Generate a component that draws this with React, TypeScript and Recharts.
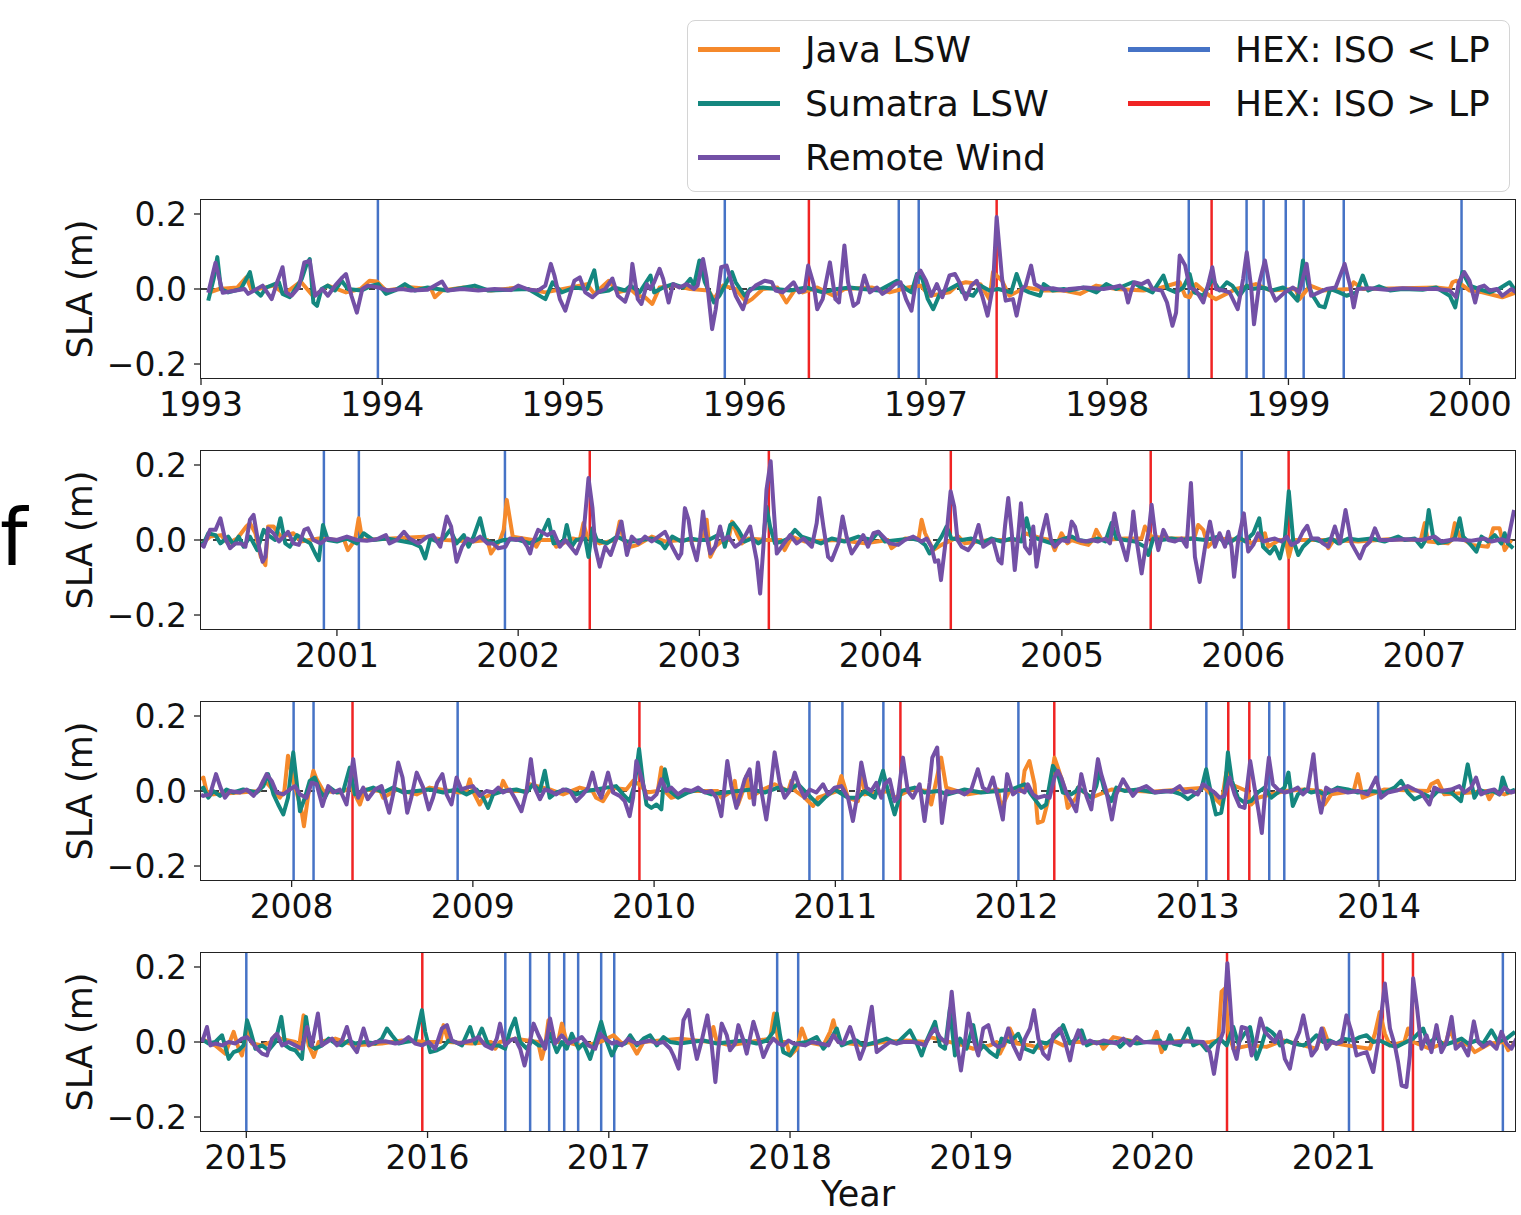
import React from "react";
import { LineChart, Line, XAxis, YAxis, ReferenceLine } from "recharts";

type Pt = [number, number];

// Remote Wind (purple), one array per panel: [decimal year, SLA m]
const wind1: Pt[] = [
  [1993.04,-0.01],[1993.08,0.07],[1993.12,-0.01],[1993.24,0.0],[1993.26,-0.013],[1993.34,0.009],[1993.39,-0.027],[1993.42,0.018],[1993.45,0.058],[1993.47,-0.009],[1993.5,-0.018],[1993.54,0.005],[1993.57,0.071],[1993.6,0.075],[1993.63,-0.018],[1993.67,0.0],[1993.7,-0.018],[1993.74,0.009],[1993.78,0.031],[1993.8,0.04],[1993.83,-0.018],[1993.86,-0.063],[1993.89,0.0],[1993.92,0.009],[1993.98,0.004],[1994.03,-0.004],[1994.11,0.0],[1994.16,-0.004],[1994.25,-0.002],[1994.33,0.02],[1994.36,-0.004],[1994.44,0.0],[1994.53,-0.004],[1994.62,0.0],[1994.71,-0.003],[1994.75,0.009],[1994.81,-0.002],[1994.86,-0.004],[1994.9,0.009],[1994.93,0.067],[1994.95,0.036],[1994.98,-0.027],[1995.01,-0.058],[1995.04,-0.009],[1995.06,0.022],[1995.09,0.031],[1995.12,-0.009],[1995.16,-0.022],[1995.19,-0.009],[1995.23,0.0],[1995.27,0.028],[1995.3,-0.018],[1995.34,-0.034],
  [1995.37,0.009],[1995.38,0.067],[1995.41,-0.027],[1995.43,-0.04],[1995.46,0.013],[1995.48,0.0],[1995.5,0.018],[1995.53,0.054],[1995.55,0.027],[1995.58,-0.036],[1995.605,0.013],[1995.64,0.004],[1995.68,0.013],[1995.72,0.0],[1995.74,0.009],[1995.77,0.08],[1995.79,0.027],[1995.82,-0.107],[1995.84,-0.054],[1995.87,0.058],[1995.9,0.0625],[1995.93,0.013],[1995.95,-0.018],[1995.99,-0.054],[1996.02,-0.009],[1996.06,0.009],[1996.11,0.022],[1996.15,0.018],[1996.17,-0.004],[1996.21,-0.009],[1996.27,0.018],[1996.3,-0.009],[1996.33,-0.004],[1996.35,0.0625],[1996.38,0.013],[1996.4,-0.054],[1996.43,-0.027],[1996.47,0.071],[1996.5,-0.027],[1996.52,-0.036],[1996.55,0.116],[1996.57,0.018],[1996.6,-0.045],[1996.625,-0.036],[1996.66,0.036],[1996.69,-0.009],[1996.73,0.004],[1996.76,-0.013],[1996.8,0.0],[1996.83,0.013],[1996.86,0.018],[1996.89,-0.027],[1996.92,-0.058],[1996.95,0.036],[1996.97,0.049],[1997.0,0.022],[1997.03,-0.018],[1997.06,0.013],[1997.09,-0.022],[1997.13,0.036],[1997.16,0.04],[1997.19,0.013],[1997.22,-0.027],[1997.25,0.009],[1997.28,0.022],[1997.31,-0.018],[1997.34,-0.071],[1997.37,0.009],[1997.39,0.192],[1997.42,0.027],[1997.44,-0.031],[1997.48,-0.027],[1997.5,-0.071],[1997.53,0.0],[1997.55,0.009],[1997.58,0.0625],[1997.6,0.013],[1997.65,0.0],[1997.7,0.002],[1997.76,-0.004],
  [1997.79,0.0],[1997.88,0.004],[1997.98,0.0],[1998.03,0.004],[1998.07,0.009],[1998.1,-0.004],[1998.115,-0.036],[1998.13,-0.009],[1998.15,0.018],[1998.19,0.013],[1998.225,0.022],[1998.25,0.0],[1998.3,-0.004],[1998.33,-0.036],[1998.36,-0.098],[1998.38,-0.063],[1998.4,0.089],[1998.43,0.063],[1998.455,0.004],[1998.49,-0.004],[1998.53,-0.036],[1998.56,0.018],[1998.58,0.058],[1998.6,0.0],[1998.64,-0.004],[1998.675,-0.009],[1998.72,-0.054],[1998.75,0.027],[1998.77,0.098],[1998.795,0.0],[1998.81,-0.094],[1998.84,0.018],[1998.87,0.076],[1998.9,0.0],[1998.93,-0.031],[1998.98,-0.009],[1999.025,0.004],[1999.06,-0.009],[1999.1,0.067],[1999.125,-0.018],[1999.15,-0.013],[1999.21,0.0],[1999.26,0.004],[1999.31,0.067],[1999.34,0.009],[1999.36,-0.049],[1999.38,0.0],[1999.45,0.002],[1999.54,-0.002],[1999.63,0.002],[1999.72,0.0],[1999.815,0.0],[1999.89,-0.004],[1999.925,-0.022],[1999.94,0.018],[1999.97,0.045],[1999.999,0.022],[2000.03,-0.036],[2000.05,0.004],[2000.08,0.009],[2000.11,-0.004],[2000.15,0.0],[2000.18,-0.018],[2000.23,0.0],[2000.26,-0.01],
];

const wind2: Pt[] = [
  [2000.25,-0.01],[2000.265,-0.018],[2000.3,0.027],[2000.33,0.027],[2000.357,0.058],[2000.38,0.009],[2000.41,-0.022],[2000.44,-0.009],[2000.47,-0.009],[2000.495,-0.018],[2000.52,0.054],[2000.54,0.067],[2000.57,-0.018],[2000.59,-0.058],[2000.605,-0.045],[2000.62,0.031],[2000.65,0.018],[2000.68,-0.004],[2000.706,0.009],[2000.73,0.022],[2000.76,-0.009],[2000.79,-0.013],[2000.82,0.027],[2000.84,0.031],[2000.87,0.0],[2000.91,-0.009],[2000.945,0.004],[2001.0,0.0],[2001.055,0.009],[2001.11,0.0],[2001.165,-0.002],[2001.22,0.002],[2001.27,0.013],[2001.29,-0.009],[2001.33,0.0],[2001.37,0.022],[2001.4,0.004],[2001.45,-0.009],[2001.5,0.009],[2001.53,0.013],[2001.57,-0.018],[2001.606,0.0625],[2001.63,0.036],[2001.66,-0.058],[2001.69,-0.018],[2001.72,0.004],[2001.75,-0.004],[2001.79,0.009],[2001.83,-0.009],[2001.86,-0.009],[2001.89,-0.022],[2001.93,-0.018],[2001.955,0.004],[2001.99,0.0],[2002.02,0.004],[2002.05,-0.018],[2002.066,-0.036],[2002.08,-0.009],[2002.11,0.027],[2002.16,0.013],[2002.195,0.022],[2002.23,-0.018],[2002.26,0.0],[2002.29,-0.018],[2002.32,-0.036],[2002.36,0.013],[2002.388,0.165],[2002.41,0.085],[2002.425,-0.018],[2002.45,-0.071],[2002.48,-0.018],[2002.51,-0.04],[2002.545,0.009],[2002.57,0.049],[2002.6,-0.04],
  [2002.627,0.009],[2002.664,-0.009],[2002.7,0.009],[2002.737,-0.004],[2002.774,0.009],[2002.81,0.022],[2002.85,-0.018],[2002.884,-0.049],[2002.9,-0.036],[2002.92,0.085],[2002.94,0.054],[2002.958,-0.009],[2002.985,-0.054],[2003.004,0.004],[2003.02,0.076],[2003.035,0.018],[2003.06,-0.036],[2003.087,-0.018],[2003.114,0.036],[2003.13,0.0],[2003.16,0.009],[2003.197,-0.018],[2003.224,-0.009],[2003.25,0.009],[2003.28,0.036],[2003.298,-0.009],[2003.316,-0.054],[2003.335,-0.143],[2003.353,-0.018],[2003.37,0.134],[2003.393,0.21],[2003.408,0.098],[2003.427,-0.036],[2003.454,-0.018],[2003.5,0.013],[2003.537,-0.009],[2003.574,0.004],[2003.62,-0.018],[2003.647,0.045],[2003.662,0.112],[2003.684,0.036],[2003.71,-0.045],[2003.73,-0.054],[2003.767,-0.009],[2003.79,0.0625],[2003.812,0.009],[2003.84,-0.036],[2003.877,-0.009],[2003.904,0.013],[2003.93,-0.018],[2003.96,0.018],[2003.987,0.022],[2004.014,0.009],[2004.05,-0.009],[2004.097,-0.013],[2004.134,0.0],[2004.18,0.009],[2004.226,-0.004],[2004.254,0.004],[2004.28,-0.018],[2004.3,-0.058],[2004.318,-0.054],[2004.333,-0.107],[2004.355,-0.018],[2004.368,0.036],[2004.386,0.13],[2004.406,0.089],[2004.424,0.0],[2004.447,-0.018],[2004.483,-0.027],[2004.51,-0.009],[2004.54,0.04],[2004.566,-0.018],[2004.594,-0.009],[2004.62,0.0],[2004.65,-0.054],[2004.667,-0.0625],[2004.686,0.036],[2004.704,0.112],[2004.722,0.027],[2004.74,-0.08],[2004.76,0.018],[2004.774,0.098],[2004.796,-0.018],[2004.823,-0.036],[2004.842,0.036],[2004.86,-0.071],[2004.888,0.013],[2004.915,0.067],[2004.94,0.0],[2004.96,-0.018],[2004.998,0.0],[2005.035,-0.004],
  [2005.054,0.049],[2005.072,0.036],[2005.09,0.0],[2005.13,-0.004],[2005.164,0.0],[2005.2,-0.004],[2005.24,0.004],[2005.265,-0.009],[2005.29,0.071],[2005.31,0.018],[2005.33,-0.009],[2005.357,-0.054],[2005.385,0.027],[2005.394,0.076],[2005.412,0.0],[2005.44,-0.089],[2005.462,-0.018],[2005.48,0.027],[2005.495,0.094],[2005.514,0.018],[2005.532,-0.027],[2005.56,0.027],[2005.587,0.0],[2005.624,-0.004],[2005.66,0.004],[2005.688,-0.018],[2005.712,0.152],[2005.734,-0.045],[2005.76,-0.112],[2005.79,-0.018],[2005.817,0.049],[2005.844,-0.018],[2005.87,0.018],[2005.9,-0.018],[2005.918,0.022],[2005.936,-0.018],[2005.95,-0.098],[2005.973,0.0],[2006.004,0.071],[2006.028,-0.031],[2006.056,-0.013],[2006.083,0.018],[2006.11,-0.004],[2006.14,0.0],[2006.175,0.004],[2006.212,-0.004],[2006.24,0.009],[2006.267,-0.013],[2006.304,-0.004],[2006.33,0.022],[2006.354,0.038],[2006.377,0.004],[2006.414,0.004],[2006.44,-0.009],[2006.47,-0.018],[2006.506,0.036],[2006.534,-0.009],[2006.565,0.08],[2006.598,-0.009],[2006.644,-0.049],[2006.67,-0.018],[2006.7,-0.004],[2006.727,0.031],[2006.754,0.0],[2006.82,0.0],[2006.892,0.002],[2006.984,0.0],[2007.057,0.009],[2007.094,-0.004],[2007.168,0.002],[2007.26,-0.002],[2007.333,0.004],[2007.37,-0.004],[2007.425,0.002],[2007.46,-0.004],[2007.495,0.08],
];

const wind3: Pt[] = [
  [2007.5,-0.01],[2007.513,-0.013],[2007.55,-0.009],[2007.583,0.045],[2007.608,0.009],[2007.632,-0.018],[2007.66,0.0],[2007.715,-0.004],[2007.752,0.004],[2007.79,-0.013],[2007.825,0.009],[2007.862,0.045],[2007.89,0.027],[2007.917,-0.004],[2007.954,-0.009],[2007.99,0.004],[2008.018,0.013],[2008.046,-0.009],[2008.082,-0.018],[2008.11,0.022],[2008.138,0.018],[2008.17,-0.04],[2008.202,0.013],[2008.23,-0.004],[2008.266,0.004],[2008.303,-0.036],[2008.34,0.085],[2008.367,-0.018],[2008.395,0.009],[2008.42,-0.022],[2008.46,0.004],[2008.496,0.013],[2008.538,-0.058],[2008.56,-0.009],[2008.588,0.076],[2008.612,0.036],[2008.638,-0.058],[2008.66,-0.018],[2008.69,0.049],[2008.726,0.009],[2008.757,-0.049],[2008.78,-0.018],[2008.803,0.022],[2008.832,0.045],[2008.855,-0.009],[2008.882,-0.036],[2008.91,0.036],[2008.937,0.004],[2008.965,0.009],[2009.0,0.013],[2009.038,-0.013],[2009.075,0.0],[2009.112,-0.004],[2009.14,0.009],[2009.167,-0.004],[2009.204,0.004],[2009.23,-0.018],[2009.268,-0.054],[2009.296,0.0],[2009.32,0.085],[2009.341,0.009],[2009.37,-0.022],[2009.397,0.004],[2009.424,0.0],[2009.46,-0.009],[2009.498,0.004],[2009.535,0.0],[2009.571,-0.027],[2009.608,-0.009],[2009.636,0.009],[2009.66,0.049],[2009.68,0.009],[2009.709,-0.018],[2009.746,0.049],[2009.773,-0.004],[2009.81,-0.013],[2009.838,-0.027],[2009.865,-0.067],[2009.884,-0.018],[2009.902,0.08],[2009.93,0.036],
  [2009.958,-0.018],[2009.985,-0.022],[2010.013,-0.009],[2010.04,0.031],[2010.068,0.0],[2010.095,0.009],[2010.132,-0.009],[2010.169,0.004],[2010.206,0.0],[2010.243,0.009],[2010.279,-0.004],[2010.316,0.0],[2010.344,-0.018],[2010.371,-0.067],[2010.404,0.08],[2010.426,0.013],[2010.454,-0.045],[2010.482,0.0],[2010.5,0.031],[2010.527,0.058],[2010.551,-0.036],[2010.573,0.076],[2010.592,0.0],[2010.619,-0.076],[2010.643,0.009],[2010.665,0.103],[2010.693,0.022],[2010.72,-0.018],[2010.748,0.0],[2010.776,0.049],[2010.803,0.009],[2010.831,-0.018],[2010.858,0.004],[2010.895,-0.004],[2010.932,0.018],[2010.96,-0.009],[2010.996,0.009],[2011.033,0.013],[2011.07,-0.018],[2011.097,-0.08],[2011.125,0.0],[2011.143,0.076],[2011.171,0.009],[2011.198,0.0],[2011.226,0.022],[2011.253,-0.018],[2011.272,0.018],[2011.3,0.031],[2011.327,-0.027],[2011.345,-0.018],[2011.373,0.089],[2011.4,0.0],[2011.428,-0.018],[2011.465,0.018],[2011.492,-0.08],[2011.52,0.022],[2011.535,0.089],[2011.562,0.116],[2011.588,-0.085],[2011.612,0.0],[2011.64,-0.004],[2011.676,0.0],[2011.713,-0.009],[2011.75,0.004],[2011.786,0.058],[2011.814,0.009],[2011.842,0.0],[2011.869,0.036],[2011.897,-0.018],[2011.924,-0.076],[2011.948,0.045],[2011.98,-0.009],[2012.016,0.004],[2012.044,-0.004],[2012.062,0.018],[2012.09,-0.009],[2012.117,-0.018],[2012.154,-0.013],[2012.182,-0.018],[2012.209,0.036],[2012.228,0.054],[2012.246,0.036],[2012.274,-0.004],[2012.301,-0.027],[2012.329,-0.054],
  [2012.357,0.045],[2012.385,-0.013],[2012.412,-0.049],[2012.43,0.018],[2012.449,0.085],[2012.467,0.045],[2012.495,0.0],[2012.526,-0.076],[2012.55,-0.009],[2012.587,0.031],[2012.614,0.009],[2012.642,-0.013],[2012.67,0.004],[2012.716,0.013],[2012.762,-0.004],[2012.817,0.0],[2012.853,-0.002],[2012.9,0.013],[2012.927,-0.004],[2012.964,0.0],[2013.0,-0.009],[2013.028,0.018],[2013.056,0.009],[2013.092,-0.004],[2013.12,-0.018],[2013.147,-0.013],[2013.175,0.036],[2013.203,-0.009],[2013.23,-0.04],[2013.258,-0.045],[2013.289,0.08],[2013.313,0.009],[2013.335,-0.054],[2013.353,-0.112],[2013.374,0.009],[2013.392,0.089],[2013.414,0.018],[2013.442,0.004],[2013.478,-0.004],[2013.515,0.0],[2013.552,0.009],[2013.58,-0.009],[2013.607,0.004],[2013.638,0.098],[2013.658,0.0],[2013.68,-0.058],[2013.708,0.009],[2013.736,0.0],[2013.772,0.004],[2013.828,-0.004],[2013.883,0.0],[2013.938,-0.009],[2013.984,0.036],[2014.011,-0.018],[2014.048,-0.004],[2014.103,0.002],[2014.158,0.013],[2014.195,0.004],[2014.232,-0.004],[2014.278,-0.036],[2014.305,0.009],[2014.342,0.0],[2014.397,0.004],[2014.443,0.013],[2014.471,-0.004],[2014.508,0.009],[2014.535,0.036],[2014.563,-0.009],[2014.6,0.0],[2014.636,0.004],[2014.664,-0.009],[2014.692,0.009],[2014.728,-0.004],[2014.756,0.0],
];

const wind4: Pt[] = [
  [2014.756,0.0],[2014.783,0.04],[2014.802,-0.009],[2014.829,-0.004],[2014.866,-0.009],[2014.903,0.0],[2014.94,-0.004],[2014.976,0.009],[2015.004,0.013],[2015.031,0.0],[2015.059,-0.018],[2015.087,-0.031],[2015.114,-0.036],[2015.142,0.009],[2015.169,0.022],[2015.197,-0.009],[2015.234,0.0],[2015.27,-0.009],[2015.307,-0.018],[2015.335,0.04],[2015.362,-0.009],[2015.395,0.076],[2015.417,-0.009],[2015.445,0.0],[2015.473,0.009],[2015.5,-0.009],[2015.528,0.004],[2015.555,0.04],[2015.583,-0.009],[2015.61,-0.027],[2015.647,0.036],[2015.675,-0.009],[2015.712,0.0],[2015.767,0.002],[2015.822,-0.004],[2015.859,0.0],[2015.895,0.013],[2015.932,-0.004],[2015.969,-0.009],[2016.006,0.0],[2016.042,-0.018],[2016.079,0.036],[2016.107,0.045],[2016.134,0.004],[2016.171,-0.004],[2016.208,0.0],[2016.245,0.004],[2016.281,0.013],[2016.318,-0.009],[2016.355,-0.018],[2016.382,0.009],[2016.4,0.049],[2016.428,-0.009],[2016.456,0.004],[2016.483,0.009],[2016.511,-0.018],[2016.535,-0.0625],[2016.557,-0.018],[2016.585,0.049],[2016.612,0.018],[2016.649,-0.018],[2016.676,0.0625],[2016.704,-0.004],[2016.741,0.018],[2016.777,-0.004],[2016.814,0.004],[2016.851,0.013],[2016.888,-0.009],[2016.925,-0.018],[2016.952,0.022],[2016.98,0.009],[2017.017,-0.004],[2017.044,0.0],[2017.072,-0.009],[2017.108,0.009],
  [2017.118,0.004],[2017.155,-0.004],[2017.192,0.0],[2017.228,0.004],[2017.265,-0.004],[2017.302,0.0],[2017.339,-0.018],[2017.357,-0.036],[2017.385,-0.071],[2017.412,0.058],[2017.44,0.085],[2017.458,0.022],[2017.486,-0.045],[2017.513,0.004],[2017.544,0.071],[2017.568,-0.009],[2017.588,-0.107],[2017.605,-0.018],[2017.623,0.049],[2017.651,0.018],[2017.669,-0.022],[2017.697,-0.004],[2017.715,0.045],[2017.743,0.004],[2017.761,-0.031],[2017.798,0.054],[2017.826,0.009],[2017.853,-0.04],[2017.881,-0.009],[2017.908,0.009],[2017.936,-0.004],[2017.963,-0.009],[2017.991,0.004],[2018.019,-0.004],[2018.083,-0.009],[2018.12,0.0],[2018.166,-0.004],[2018.212,-0.009],[2018.239,0.018],[2018.267,0.0],[2018.294,-0.004],[2018.331,0.04],[2018.359,0.0],[2018.386,-0.045],[2018.414,-0.009],[2018.451,0.094],[2018.478,-0.027],[2018.515,-0.013],[2018.552,0.0],[2018.588,-0.004],[2018.625,0.0],[2018.68,0.0],[2018.717,-0.004],[2018.745,-0.009],[2018.772,0.018],[2018.8,0.036],[2018.827,0.013],[2018.864,-0.004],[2018.892,0.134],[2018.919,0.0],[2018.943,-0.076],[2018.965,0.0],[2018.984,0.076],[2019.011,0.009],[2019.039,-0.036],[2019.066,0.036],[2019.094,0.045],[2019.121,-0.004],[2019.149,-0.013],[2019.177,-0.009],[2019.204,0.036],[2019.232,-0.009],[2019.268,-0.045],[2019.296,0.009],[2019.324,0.036],[2019.346,0.085],[2019.37,0.009],[2019.397,-0.031],[2019.425,-0.045],[2019.452,0.018],[2019.489,0.036],[2019.517,0.0],
  [2019.545,-0.049],[2019.563,-0.004],[2019.591,0.031],[2019.618,-0.004],[2019.655,0.004],[2019.692,-0.004],[2019.729,0.004],[2019.766,0.0],[2019.802,-0.004],[2019.839,0.009],[2019.876,-0.009],[2019.913,0.013],[2019.949,0.0],[2020.023,-0.002],[2020.096,-0.002],[2020.207,0.002],[2020.28,0.0],[2020.317,-0.027],[2020.339,-0.085],[2020.363,-0.009],[2020.39,0.027],[2020.413,0.21],[2020.427,0.116],[2020.446,-0.018],[2020.464,-0.045],[2020.492,0.04],[2020.519,0.036],[2020.547,-0.036],[2020.571,0.0],[2020.596,0.0625],[2020.62,0.027],[2020.648,0.013],[2020.675,0.0],[2020.703,0.027],[2020.73,-0.045],[2020.758,-0.071],[2020.786,0.0],[2020.81,0.027],[2020.832,0.071],[2020.854,0.018],[2020.878,-0.036],[2020.905,-0.018],[2020.933,0.036],[2020.96,-0.018],[2020.988,0.0],[2021.015,-0.004],[2021.043,0.0],[2021.07,0.071],[2021.098,0.027],[2021.126,-0.036],[2021.153,-0.031],[2021.181,-0.027],[2021.218,-0.08],[2021.245,0.0],[2021.282,0.156],[2021.31,0.036],[2021.337,-0.009],[2021.355,-0.054],[2021.374,-0.116],[2021.401,-0.12],[2021.42,-0.036],[2021.438,0.17],[2021.46,0.089],[2021.484,-0.018],[2021.512,0.018],[2021.539,-0.027],[2021.567,0.045],[2021.594,-0.027],[2021.622,0.0],[2021.65,0.067],[2021.673,-0.018],[2021.705,-0.004],[2021.741,-0.036],[2021.773,0.055],[2021.797,0.0],[2021.824,-0.013],[2021.861,0.0],[2021.898,-0.018],[2021.925,0.027],[2021.953,-0.004],[2021.98,-0.018],[2022.008,0.009],
];

// Sumatra LSW (teal)
const sumatra1: Pt[] = [
  [1993.04,-0.031],[1993.07,0.027],[1993.09,0.085],[1993.11,0.0],[1993.15,-0.009],[1993.22,0.0],[1993.27,0.045],[1993.29,0.0],[1993.33,-0.018],[1993.36,0.004],[1993.43,0.018],[1993.45,-0.013],[1993.49,-0.022],[1993.52,0.0],[1993.556,0.027],[1993.58,0.062],[1993.6,0.08],[1993.62,-0.036],[1993.64,-0.045],[1993.665,0.0],[1993.7,0.009],[1993.74,-0.004],[1993.776,0.022],[1993.81,0.0],[1993.886,-0.004],[1993.94,0.009],[1993.978,0.013],[1994.02,-0.013],[1994.07,-0.004],[1994.125,0.013],[1994.18,-0.004],[1994.25,0.004],[1994.36,-0.004],[1994.51,0.009],[1994.585,-0.004],[1994.805,0.0],[1994.9,-0.027],[1994.94,0.018],[1994.99,-0.009],[1995.06,0.004],[1995.13,0.0],[1995.17,0.05],[1995.19,-0.009],[1995.25,-0.004],[1995.28,0.004],[1995.34,-0.004],
  [1995.37,0.009],[1995.42,-0.009],[1995.48,0.036],[1995.5,-0.009],[1995.55,0.004],[1995.605,0.013],[1995.66,0.004],[1995.7,0.027],[1995.72,0.009],[1995.75,0.076],[1995.78,0.018],[1995.83,-0.036],[1995.86,-0.018],[1995.9,0.018],[1995.93,0.045],[1995.95,0.018],[1996.0,-0.018],[1996.03,0.0],[1996.1,0.004],[1996.17,0.0],[1996.25,-0.004],[1996.34,0.004],[1996.43,-0.009],[1996.51,0.0],[1996.58,0.004],[1996.65,0.0],[1996.74,-0.004],[1996.84,0.022],[1996.89,0.0],[1996.92,-0.009],[1996.95,0.04],[1996.98,0.027],[1997.01,-0.027],[1997.04,-0.054],[1997.08,-0.009],[1997.13,0.0],[1997.18,0.013],[1997.2,-0.009],[1997.26,-0.018],[1997.3,0.009],[1997.35,-0.004],[1997.4,0.0],[1997.43,-0.004],[1997.47,-0.009],[1997.5,0.04],[1997.53,0.0],[1997.57,-0.009],[1997.63,-0.018],[1997.65,0.013],[1997.7,-0.004],[1997.76,0.0],
  [1997.79,-0.004],[1997.87,0.004],[1997.94,-0.009],[1997.995,0.013],[1998.05,0.0],[1998.14,0.018],[1998.19,0.004],[1998.25,-0.009],[1998.31,0.036],[1998.335,0.0],[1998.38,-0.009],[1998.42,0.004],[1998.455,0.04],[1998.48,-0.009],[1998.53,-0.018],[1998.58,0.027],[1998.62,-0.004],[1998.66,0.018],[1998.69,0.009],[1998.73,-0.018],[1998.77,0.009],[1998.8,0.0],[1998.86,0.004],[1998.91,-0.004],[1998.97,0.004],[1999.01,-0.009],[1999.05,-0.031],[1999.08,0.076],[1999.11,0.009],[1999.135,-0.018],[1999.17,-0.045],[1999.2,-0.049],[1999.23,0.0],[1999.28,-0.009],[1999.32,-0.018],[1999.375,-0.009],[1999.41,0.036],[1999.44,-0.004],[1999.5,0.007],[1999.56,-0.004],[1999.63,0.0],[1999.74,-0.002],[1999.815,0.004],[1999.89,-0.018],[1999.92,-0.049],[1999.94,0.004],[1999.96,0.045],[1999.999,0.009],[2000.05,0.0],[2000.11,-0.009],[2000.16,0.0],[2000.22,0.018],[2000.26,-0.009],
];

const sumatra2: Pt[] = [
  [2000.25,-0.009],[2000.265,-0.009],[2000.29,0.018],[2000.33,0.013],[2000.357,-0.009],[2000.4,0.009],[2000.43,-0.013],[2000.458,0.009],[2000.485,-0.018],[2000.52,0.009],[2000.56,-0.027],[2000.596,0.027],[2000.62,0.013],[2000.66,0.0],[2000.688,0.058],[2000.715,-0.009],[2000.74,-0.018],[2000.78,0.013],[2000.82,0.0],[2000.853,-0.009],[2000.88,-0.036],[2000.9,-0.054],[2000.923,0.04],[2000.95,0.0],[2001.0,-0.004],[2001.055,0.004],[2001.11,-0.009],[2001.147,0.018],[2001.2,0.0],[2001.276,0.004],[2001.37,-0.004],[2001.42,-0.009],[2001.46,-0.018],[2001.487,-0.049],[2001.515,0.004],[2001.55,-0.004],[2001.588,0.004],[2001.625,0.027],[2001.66,-0.009],[2001.7,0.013],[2001.726,-0.018],[2001.754,0.009],[2001.79,0.058],[2001.818,0.0],[2001.864,-0.009],[2001.92,0.0],[2001.99,0.002],[2002.066,-0.009],[2002.12,0.004],[2002.167,0.054],[2002.195,-0.009],[2002.25,-0.004],[2002.268,0.04],[2002.295,-0.018],[2002.32,0.0],[2002.37,0.004],[2002.388,-0.045],[2002.41,0.031],[2002.434,0.0],[2002.49,-0.009],[2002.545,0.009],[2002.6,-0.004],
  [2002.627,-0.004],[2002.68,0.0],[2002.737,0.004],[2002.79,-0.009],[2002.81,-0.022],[2002.85,0.009],[2002.9,-0.004],[2002.95,0.004],[2002.995,0.0],[2003.05,0.0],[2003.087,0.009],[2003.123,0.018],[2003.14,-0.018],[2003.17,0.04],[2003.187,0.045],[2003.215,0.027],[2003.25,-0.004],[2003.29,0.004],[2003.325,-0.009],[2003.353,0.0],[2003.37,0.089],[2003.39,0.036],[2003.417,-0.009],[2003.454,-0.004],[2003.49,0.004],[2003.527,0.027],[2003.564,0.009],[2003.62,0.0],[2003.67,-0.009],[2003.73,0.004],[2003.8,-0.004],[2003.877,0.009],[2003.95,0.0],[2003.987,0.022],[2004.024,-0.004],[2004.097,0.0],[2004.17,0.004],[2004.208,0.0],[2004.245,-0.013],[2004.27,-0.036],[2004.3,-0.018],[2004.336,0.009],[2004.364,0.036],[2004.39,0.004],[2004.447,0.0],[2004.5,0.004],[2004.557,-0.009],[2004.61,0.004],[2004.667,-0.004],[2004.722,0.004],[2004.777,-0.004],[2004.805,0.058],[2004.83,0.009],[2004.888,0.0],[2004.943,-0.009],[2005.016,0.004],
  [2005.054,0.009],[2005.09,0.0],[2005.146,-0.004],[2005.2,0.004],[2005.24,-0.004],[2005.274,0.045],[2005.3,0.004],[2005.348,0.0],[2005.403,-0.004],[2005.458,-0.018],[2005.477,-0.04],[2005.504,0.004],[2005.55,0.0],[2005.605,0.004],[2005.66,0.0],[2005.716,0.004],[2005.79,0.0],[2005.863,0.009],[2005.9,-0.009],[2005.936,-0.004],[2005.973,0.009],[2006.01,-0.004],[2006.056,0.018],[2006.089,0.058],[2006.11,-0.018],[2006.148,-0.036],[2006.175,-0.018],[2006.203,-0.049],[2006.23,0.004],[2006.252,0.13],[2006.276,0.0],[2006.304,-0.04],[2006.33,-0.018],[2006.377,0.004],[2006.43,-0.004],[2006.488,0.004],[2006.524,-0.009],[2006.58,0.004],[2006.635,0.0],[2006.708,0.004],[2006.78,-0.004],[2006.855,0.009],[2006.892,0.0],[2006.947,0.004],[2006.984,-0.018],[2007.002,-0.004],[2007.024,0.08],[2007.048,0.009],[2007.076,-0.009],[2007.13,-0.004],[2007.168,0.004],[2007.195,0.058],[2007.214,0.009],[2007.24,-0.004],[2007.287,-0.031],[2007.315,0.009],[2007.35,-0.004],[2007.388,0.013],[2007.425,-0.009],[2007.443,0.018],[2007.46,-0.009],[2007.49,-0.022],
];

const sumatra3: Pt[] = [
  [2007.5,0.005],[2007.513,0.009],[2007.54,-0.018],[2007.568,0.0],[2007.605,-0.013],[2007.641,0.004],[2007.678,-0.004],[2007.733,0.004],[2007.807,-0.004],[2007.844,0.013],[2007.87,0.045],[2007.9,-0.009],[2007.926,-0.036],[2007.954,-0.0625],[2007.98,-0.018],[2008.009,0.103],[2008.027,0.027],[2008.046,-0.054],[2008.073,-0.018],[2008.1,0.027],[2008.128,0.036],[2008.156,0.0],[2008.184,-0.018],[2008.211,0.009],[2008.248,-0.004],[2008.285,0.0],[2008.321,0.0625],[2008.349,-0.009],[2008.395,0.0],[2008.45,0.009],[2008.505,-0.004],[2008.56,0.009],[2008.616,-0.004],[2008.69,0.0],[2008.762,0.004],[2008.836,-0.004],[2008.91,0.004],[2008.965,-0.009],[2009.02,0.004],[2009.057,-0.018],[2009.084,-0.045],[2009.112,-0.009],[2009.167,0.0],[2009.24,0.004],[2009.296,-0.004],[2009.332,0.018],[2009.37,0.0],[2009.397,0.054],[2009.424,-0.018],[2009.46,-0.004],[2009.516,0.004],[2009.571,-0.009],[2009.626,0.0],[2009.68,0.004],[2009.737,0.009],[2009.79,0.013],[2009.829,-0.009],[2009.865,-0.027],[2009.893,0.018],[2009.917,0.112],
  [2009.94,0.018],[2009.958,-0.036],[2009.985,-0.045],[2010.013,-0.036],[2010.04,-0.049],[2010.059,0.058],[2010.086,0.0],[2010.132,-0.018],[2010.187,-0.004],[2010.243,0.004],[2010.316,-0.009],[2010.39,-0.004],[2010.463,0.0],[2010.537,0.004],[2010.61,-0.004],[2010.684,0.009],[2010.739,0.0],[2010.794,0.018],[2010.849,-0.009],[2010.904,-0.036],[2010.941,-0.018],[2010.996,0.004],[2011.07,-0.018],[2011.125,-0.018],[2011.162,0.0],[2011.217,-0.018],[2011.263,0.054],[2011.29,0.0],[2011.327,-0.0625],[2011.364,0.0],[2011.437,0.009],[2011.492,-0.004],[2011.566,0.0],[2011.621,-0.009],[2011.713,0.004],[2011.805,-0.004],[2011.897,0.0],[2011.97,0.004],[2012.044,0.018],[2012.08,-0.009],[2012.108,-0.027],[2012.136,-0.045],[2012.163,-0.036],[2012.2,0.067],[2012.228,0.045],[2012.255,-0.004],[2012.301,-0.009],[2012.329,0.0],
  [2012.339,0.009],[2012.376,-0.004],[2012.412,-0.018],[2012.44,0.013],[2012.458,0.054],[2012.486,0.0],[2012.523,-0.027],[2012.55,0.009],[2012.596,0.0],[2012.67,0.004],[2012.762,-0.004],[2012.853,0.0],[2012.909,-0.009],[2012.945,-0.022],[2012.982,-0.009],[2013.019,0.004],[2013.046,0.058],[2013.074,-0.009],[2013.1,-0.0625],[2013.129,-0.058],[2013.147,-0.009],[2013.166,0.103],[2013.188,0.027],[2013.221,-0.018],[2013.258,-0.031],[2013.294,-0.027],[2013.331,-0.004],[2013.368,0.009],[2013.405,-0.018],[2013.442,-0.004],[2013.478,0.009],[2013.5,0.049],[2013.524,-0.04],[2013.552,-0.009],[2013.589,0.004],[2013.625,-0.004],[2013.662,0.0],[2013.699,-0.009],[2013.736,0.0],[2013.772,0.009],[2013.828,0.004],[2013.883,-0.004],[2013.956,0.0],[2014.03,-0.004],[2014.085,0.009],[2014.122,0.027],[2014.158,-0.004],[2014.195,-0.022],[2014.25,-0.009],[2014.287,-0.018],[2014.324,0.0],[2014.397,-0.004],[2014.452,-0.027],[2014.489,0.071],[2014.526,-0.018],[2014.553,0.004],[2014.59,-0.004],[2014.627,0.0],[2014.664,-0.009],[2014.682,0.036],[2014.71,-0.004],[2014.75,0.004],
];

const sumatra4: Pt[] = [
  [2014.75,0.009],[2014.792,-0.004],[2014.829,0.0],[2014.866,0.018],[2014.903,-0.045],[2014.93,-0.027],[2014.958,-0.022],[2014.985,-0.009],[2015.004,0.058],[2015.022,0.031],[2015.05,-0.018],[2015.087,-0.009],[2015.123,-0.022],[2015.16,0.0],[2015.193,0.067],[2015.215,-0.009],[2015.243,-0.018],[2015.27,-0.022],[2015.307,-0.045],[2015.329,0.067],[2015.353,-0.009],[2015.381,-0.018],[2015.417,-0.009],[2015.454,0.009],[2015.491,-0.004],[2015.528,-0.009],[2015.564,0.004],[2015.601,-0.004],[2015.656,0.0],[2015.712,-0.004],[2015.748,0.009],[2015.776,0.036],[2015.803,0.018],[2015.84,-0.004],[2015.877,0.0],[2015.932,0.004],[2015.969,0.085],[2015.987,0.027],[2016.015,-0.027],[2016.052,-0.022],[2016.088,-0.013],[2016.116,0.004],[2016.153,0.0],[2016.19,-0.009],[2016.235,0.04],[2016.263,-0.004],[2016.3,0.036],[2016.336,-0.009],[2016.392,-0.009],[2016.428,-0.018],[2016.456,0.031],[2016.483,0.0625],[2016.511,0.0],[2016.548,-0.018],[2016.575,0.004],[2016.612,-0.009],[2016.64,-0.009],[2016.676,0.022],[2016.713,-0.027],[2016.741,0.0],[2016.768,-0.018],[2016.796,0.022],[2016.833,-0.018],[2016.86,-0.004],[2016.897,-0.045],[2016.925,0.0],[2016.958,0.054],[2016.989,0.0],[2017.017,-0.036],[2017.044,-0.009],[2017.09,-0.004],
  [2017.118,0.018],[2017.155,-0.009],[2017.192,0.009],[2017.228,0.018],[2017.265,-0.009],[2017.302,0.013],[2017.339,0.0],[2017.394,-0.004],[2017.449,0.0],[2017.522,0.004],[2017.596,-0.004],[2017.669,0.0],[2017.743,0.004],[2017.816,-0.004],[2017.872,0.004],[2017.908,0.027],[2017.927,0.076],[2017.945,0.018],[2017.963,-0.027],[2018.0,-0.036],[2018.037,-0.004],[2018.092,0.0],[2018.147,0.013],[2018.184,-0.018],[2018.221,0.004],[2018.258,0.036],[2018.285,-0.009],[2018.331,0.0],[2018.368,0.004],[2018.405,-0.009],[2018.478,0.0],[2018.533,0.009],[2018.588,-0.004],[2018.662,0.031],[2018.699,-0.004],[2018.726,-0.036],[2018.754,0.004],[2018.8,0.054],[2018.827,-0.009],[2018.855,-0.018],[2018.882,0.089],[2018.91,-0.036],[2018.938,0.009],[2018.974,-0.018],[2019.011,0.045],[2019.039,-0.027],[2019.066,-0.009],[2019.103,-0.027],[2019.14,-0.04],[2019.167,0.009],[2019.213,0.0],[2019.259,0.022],[2019.296,-0.018],[2019.342,-0.027],[2019.379,0.0],[2019.416,-0.004],[2019.452,0.009],[2019.48,0.022],[2019.507,0.045],[2019.535,0.009],
  [2019.545,-0.004],[2019.582,0.009],[2019.609,0.031],[2019.637,-0.009],[2019.674,0.0],[2019.729,-0.004],[2019.802,0.0],[2019.821,-0.013],[2019.857,0.004],[2019.913,-0.004],[2019.968,0.0],[2020.041,0.004],[2020.069,-0.018],[2020.096,0.018],[2020.115,-0.004],[2020.152,-0.009],[2020.197,0.036],[2020.225,-0.009],[2020.262,0.0],[2020.299,-0.022],[2020.335,-0.004],[2020.372,0.009],[2020.409,-0.009],[2020.446,0.04],[2020.473,-0.004],[2020.501,0.018],[2020.538,0.04],[2020.574,-0.045],[2020.602,-0.009],[2020.629,0.036],[2020.657,0.027],[2020.675,0.018],[2020.703,-0.009],[2020.74,0.004],[2020.776,-0.004],[2020.832,-0.009],[2020.868,0.0],[2020.905,0.018],[2020.942,0.0],[2020.979,0.004],[2021.015,-0.004],[2021.052,0.009],[2021.107,0.004],[2021.144,0.013],[2021.181,0.018],[2021.218,0.0],[2021.254,0.004],[2021.31,-0.009],[2021.346,-0.013],[2021.383,-0.004],[2021.438,0.009],[2021.493,0.036],[2021.521,-0.004],[2021.567,0.013],[2021.604,-0.009],[2021.659,0.0],[2021.705,0.009],[2021.741,-0.004],[2021.787,0.004],[2021.824,-0.004],[2021.87,0.031],[2021.907,0.0],[2021.953,0.009],[2022.0,0.027],
];

// Java LSW (orange)
const java1: Pt[] = [
  [1993.04,-0.01],[1993.1,0.0],[1993.2,0.004],[1993.25,0.031],[1993.28,-0.004],[1993.4,0.009],[1993.46,-0.013],[1993.55,0.02],[1993.62,-0.02],[1993.7,0.009],[1993.8,-0.009],[1993.88,0.0],[1993.93,0.022],[1993.97,0.02],[1994.02,-0.004],[1994.15,0.005],[1994.27,0.0],[1994.29,-0.022],[1994.33,-0.004],[1994.45,0.004],[1994.6,-0.004],[1994.75,0.004],[1994.9,-0.009],[1995.04,0.004],[1995.13,0.013],[1995.17,-0.013],[1995.25,0.022],[1995.3,-0.009],
  [1995.37,0.0],[1995.41,-0.018],[1995.45,-0.022],[1995.49,-0.04],[1995.53,0.004],[1995.61,0.009],[1995.7,0.0],[1995.8,-0.004],[1995.83,-0.027],[1995.88,0.009],[1995.95,0.0],[1996.01,-0.036],[1996.04,-0.027],[1996.1,0.0],[1996.18,0.004],[1996.23,-0.036],[1996.28,0.0],[1996.32,-0.009],[1996.4,0.004],[1996.49,-0.018],[1996.55,0.0],[1996.7,0.004],[1996.8,-0.009],[1996.9,0.004],[1996.97,0.009],[1997.02,-0.018],[1997.13,-0.009],[1997.18,0.013],[1997.22,0.018],[1997.3,0.013],[1997.35,-0.027],[1997.37,0.045],[1997.42,0.022],[1997.46,-0.018],[1997.55,0.004],[1997.65,-0.004],[1997.76,-0.004],
  [1997.85,-0.013],[1997.94,0.009],[1998.05,0.0],[1998.2,-0.004],[1998.3,0.004],[1998.4,0.018],[1998.43,-0.018],[1998.455,-0.022],[1998.49,0.013],[1998.565,-0.018],[1998.6,-0.027],[1998.71,0.0],[1998.82,0.013],[1998.9,-0.004],[1999.04,0.0],[1999.06,-0.027],[1999.12,0.009],[1999.19,-0.004],[1999.34,0.0],[1999.36,0.018],[1999.41,0.0],[1999.63,0.002],[1999.815,0.004],[1999.89,0.0],[1999.905,0.018],[1999.925,0.022],[2000.0,-0.004],[2000.07,-0.009],[2000.18,-0.022],[2000.26,-0.009],
];

const java2: Pt[] = [
  [2000.25,-0.013],[2000.3,0.009],[2000.36,0.013],[2000.4,-0.009],[2000.45,0.004],[2000.5,0.036],[2000.52,0.045],[2000.55,0.018],[2000.58,-0.045],[2000.605,-0.067],[2000.62,0.036],[2000.65,0.036],[2000.69,0.009],[2000.76,0.018],[2000.8,-0.004],[2000.9,0.004],[2001.0,0.0],[2001.04,0.0],[2001.06,-0.027],[2001.1,0.0],[2001.12,0.058],[2001.14,0.0],[2001.3,0.004],[2001.48,0.009],[2001.6,0.0],[2001.75,-0.004],[2001.83,0.0],[2001.85,-0.036],[2001.9,0.0],[2001.92,0.027],[2001.937,0.107],[2001.955,0.054],[2001.97,0.009],[2002.08,0.0],[2002.1,-0.018],[2002.12,0.0],[2002.19,0.0],[2002.21,-0.018],[2002.3,0.004],[2002.34,0.0],[2002.36,0.045],[2002.38,0.009],[2002.45,-0.009],[2002.54,0.0],[2002.56,0.049],[2002.58,0.0],[2002.62,-0.018],
  [2002.66,-0.013],[2002.737,0.009],[2002.81,-0.004],[2002.9,0.0],[2003.02,0.0],[2003.04,0.054],[2003.06,-0.045],[2003.087,-0.018],[2003.13,0.0],[2003.16,0.0],[2003.18,0.049],[2003.206,0.018],[2003.234,-0.009],[2003.27,0.004],[2003.37,0.0],[2003.45,0.0],[2003.47,-0.027],[2003.51,0.009],[2003.58,-0.004],[2003.767,0.0],[2003.914,-0.009],[2004.04,0.0],[2004.06,-0.022],[2004.134,0.004],[2004.21,0.004],[2004.226,0.054],[2004.245,0.018],[2004.29,-0.027],[2004.336,-0.013],[2004.43,0.009],[2004.465,-0.009],[2004.6,0.0],[2004.78,0.0],[2004.796,0.018],[2004.888,0.004],[2004.94,0.0],[2004.96,-0.027],[2004.998,0.018],[2005.03,-0.009],
  [2005.054,0.0],[2005.11,-0.009],[2005.146,-0.013],[2005.17,0.0],[2005.19,0.027],[2005.22,0.0],[2005.35,0.004],[2005.44,0.004],[2005.458,0.036],[2005.495,0.009],[2005.605,0.004],[2005.73,0.004],[2005.752,0.04],[2005.78,0.027],[2005.807,-0.018],[2005.85,0.004],[2006.02,0.0],[2006.046,-0.009],[2006.074,0.0],[2006.1,0.0],[2006.12,0.018],[2006.138,-0.018],[2006.2,0.0],[2006.235,0.0],[2006.252,-0.045],[2006.276,0.0],[2006.45,0.0],[2006.47,-0.022],[2006.5,0.0],[2006.635,-0.004],[2006.8,0.002],[2006.98,0.0],[2007.002,0.045],[2007.02,-0.004],[2007.13,-0.009],[2007.15,0.0],[2007.168,0.045],[2007.195,0.009],[2007.26,-0.013],[2007.35,-0.018],[2007.38,0.031],[2007.415,0.031],[2007.443,-0.027],[2007.48,0.0],
];

const java3: Pt[] = [
  [2007.5,0.03],[2007.513,0.036],[2007.53,0.0],[2007.568,-0.009],[2007.715,-0.004],[2007.82,0.0],[2007.844,0.027],[2007.87,0.018],[2007.935,-0.018],[2007.96,0.0],[2007.98,0.094],[2008.009,0.027],[2008.036,-0.018],[2008.055,-0.054],[2008.068,-0.094],[2008.092,-0.009],[2008.12,0.054],[2008.138,0.031],[2008.175,0.0],[2008.266,-0.004],[2008.33,0.009],[2008.377,-0.036],[2008.404,0.004],[2008.49,0.0],[2008.505,-0.018],[2008.58,0.004],[2008.69,-0.009],[2008.762,0.009],[2008.928,-0.004],[2008.965,0.0],[2008.983,0.031],[2009.0,0.0],[2009.038,-0.036],[2009.057,-0.018],[2009.15,0.0],[2009.167,0.027],[2009.195,0.0],[2009.3,0.0],[2009.314,0.018],[2009.424,0.004],[2009.498,-0.009],[2009.59,0.009],[2009.66,0.0],[2009.68,-0.018],[2009.718,-0.027],[2009.764,0.009],[2009.847,0.004],[2009.884,0.027],[2009.917,0.018],
  [2009.96,-0.004],[2010.02,0.0],[2010.04,0.0625],[2010.059,0.0],[2010.095,-0.018],[2010.2,0.0],[2010.35,0.0],[2010.371,-0.018],[2010.43,0.0],[2010.445,0.027],[2010.463,-0.036],[2010.49,0.0],[2010.509,0.04],[2010.527,-0.018],[2010.6,0.004],[2010.665,0.018],[2010.74,0.0],[2010.757,0.027],[2010.78,0.0],[2010.831,-0.018],[2010.877,-0.04],[2010.904,-0.018],[2011.01,0.0],[2011.033,0.04],[2011.07,-0.018],[2011.125,-0.027],[2011.143,0.0625],[2011.162,-0.009],[2011.3,0.0],[2011.327,-0.018],[2011.419,0.004],[2011.51,0.0],[2011.529,-0.036],[2011.584,0.089],[2011.612,0.009],[2011.731,-0.009],[2011.897,0.004],[2011.915,-0.045],[2011.96,0.0],[2012.03,0.0],[2012.044,0.054],[2012.071,0.08],[2012.099,0.018],[2012.117,-0.085],[2012.145,-0.08],[2012.173,-0.027],[2012.209,0.089],[2012.228,0.0625],[2012.264,0.009],[2012.282,-0.045],[2012.329,-0.018],
  [2012.339,0.009],[2012.412,-0.018],[2012.523,0.004],[2012.743,-0.002],[2013.037,0.009],[2013.092,-0.018],[2013.129,-0.036],[2013.157,0.049],[2013.184,0.018],[2013.27,0.0],[2013.294,-0.036],[2013.331,-0.018],[2013.478,0.0],[2013.589,0.004],[2013.68,0.0],[2013.699,-0.036],[2013.736,-0.009],[2013.86,0.0],[2013.883,0.045],[2013.91,-0.018],[2013.956,-0.009],[2014.03,0.004],[2014.27,0.0],[2014.287,0.018],[2014.324,0.027],[2014.36,-0.009],[2014.508,-0.004],[2014.59,0.0],[2014.608,-0.022],[2014.636,0.0],[2014.692,-0.009],[2014.75,0.0],
];

const java4: Pt[] = [
  [2014.75,0.009],[2014.829,-0.009],[2014.884,-0.031],[2014.93,0.027],[2014.958,-0.018],[2014.976,-0.036],[2015.004,0.036],[2015.031,-0.004],[2015.087,-0.009],[2015.14,0.0],[2015.16,0.018],[2015.188,0.009],[2015.27,0.0],[2015.289,-0.018],[2015.316,0.071],[2015.344,-0.009],[2015.372,-0.04],[2015.399,0.0],[2015.491,0.009],[2015.601,-0.009],[2015.748,-0.004],[2015.859,0.004],[2016.006,0.0],[2016.07,0.0],[2016.088,0.045],[2016.116,0.0],[2016.245,-0.004],[2016.35,0.0],[2016.373,-0.018],[2016.4,0.0],[2016.483,0.009],[2016.61,0.0],[2016.63,-0.045],[2016.649,-0.009],[2016.667,0.058],[2016.695,0.009],[2016.72,0.0],[2016.741,0.049],[2016.768,0.0],[2016.833,-0.009],[2016.925,-0.004],[2016.97,0.004],[2017.026,0.018],[2017.072,-0.004],
  [2017.118,0.0],[2017.155,-0.031],[2017.192,0.0],[2017.394,0.009],[2017.56,0.0],[2017.577,0.04],[2017.596,0.0],[2017.669,-0.009],[2017.89,0.009],[2017.912,0.076],[2017.936,0.0],[2017.98,0.0],[2018.0,-0.036],[2018.037,-0.018],[2018.065,0.036],[2018.092,0.0],[2018.184,-0.009],[2018.221,0.027],[2018.239,0.058],[2018.267,0.0],[2018.405,-0.009],[2018.515,0.0],[2018.643,0.004],[2018.75,0.0],[2018.772,0.013],[2018.956,-0.009],[2019.011,-0.018],[2019.103,-0.009],[2019.14,0.0],[2019.158,-0.031],[2019.19,0.0],[2019.213,0.036],[2019.25,-0.004],[2019.324,-0.009],[2019.397,-0.018],[2019.452,0.004],[2019.507,-0.009],
  [2019.545,0.0],[2019.6,0.0],[2019.655,-0.004],[2019.71,0.0],[2019.729,-0.018],[2019.76,0.0],[2019.784,0.013],[2019.913,0.0],[2020.0,0.0],[2020.023,0.027],[2020.05,-0.027],[2020.078,0.0],[2020.188,0.004],[2020.243,-0.004],[2020.317,0.0],[2020.363,0.004],[2020.381,0.134],[2020.4,0.143],[2020.418,0.027],[2020.446,-0.018],[2020.537,-0.009],[2020.629,-0.013],[2020.721,0.004],[2020.832,-0.009],[2020.905,-0.018],[2020.942,0.036],[2020.969,0.0],[2021.07,-0.009],[2021.199,-0.018],[2021.227,0.022],[2021.254,0.08],[2021.282,0.022],[2021.31,-0.009],[2021.39,0.0],[2021.41,0.036],[2021.438,0.0],[2021.53,-0.018],[2021.62,0.0],[2021.64,0.036],[2021.668,0.0],[2021.75,-0.009],[2021.778,-0.027],[2021.861,-0.004],[2021.94,0.0],[2021.962,-0.022],[2022.0,0.0],
];

// HEX events (decimal years)
const hexIsoBelowLp = [
  1993.976, 1995.89, 1996.85, 1996.96, 1998.45, 1998.769, 1998.863, 1998.985, 1999.084, 1999.305, 1999.955,
  2000.928, 2001.121, 2001.927, 2005.992,
  2008.011, 2008.121, 2008.916, 2010.857, 2011.039, 2011.265, 2012.01, 2013.047, 2013.394, 2013.477, 2013.995,
  2015.0, 2016.429, 2016.566, 2016.671, 2016.754, 2016.831, 2016.958, 2017.03, 2017.929, 2018.045, 2021.084, 2021.933,
];
const hexIsoAboveLp = [
  1996.354, 1997.39, 1998.576,
  2002.395, 2003.383, 2004.387, 2005.49, 2006.251,
  2008.336, 2009.919, 2011.359, 2012.208, 2013.168, 2013.284,
  2015.971, 2020.411, 2021.271, 2021.437,
];

const panelRanges: [number, number][] = [[1993, 2000.25], [2000.25, 2007.5], [2007.5, 2014.75], [2014.75, 2022.0]];
const panelYears = [
  [1993, 1994, 1995, 1996, 1997, 1998, 1999, 2000],
  [2001, 2002, 2003, 2004, 2005, 2006, 2007],
  [2008, 2009, 2010, 2011, 2012, 2013, 2014],
  [2015, 2016, 2017, 2018, 2019, 2020, 2021],
];
const slaTicks = [-0.2, 0, 0.2];

const C = {
  java: "#f5892b",
  sumatra: "#14877f",
  wind: "#7350a6",
  below: "#4673c6",
  above: "#f02424",
};
const FONT = "'DejaVu Sans', 'Liberation Sans', sans-serif";

const PLOT_LEFT = 201;
const PLOT_W = 1314;
const PLOT_H = 178;
const AXIS_H = 50;
const PAD_TOP = 24;
const panelTops = [200, 451, 702, 953];

function mergeRows(java: Pt[], sumatra: Pt[], wind: Pt[]) {
  const map = new Map<number, any>();
  const add = (pts: Pt[], key: string) =>
    pts.forEach(([t, v]) => {
      const row = map.get(t) || { t };
      row[key] = v;
      map.set(t, row);
    });
  add(java, "java");
  add(sumatra, "sumatra");
  add(wind, "wind");
  return Array.from(map.values()).sort((a, b) => a.t - b.t);
}

const fmtSla = (v: number) => (v === 0 ? "0.0" : (v < 0 ? "\u2212" : "") + Math.abs(v).toFixed(1));

const tickStyle = { fontSize: 33, fill: "#111", fontFamily: FONT };

function Panel({ idx, java, sumatra, wind }: { idx: number; java: Pt[]; sumatra: Pt[]; wind: Pt[] }) {
  const rows = mergeRows(java, sumatra, wind);
  const top = panelTops[idx] - PAD_TOP;
  const h = PAD_TOP + PLOT_H + AXIS_H;
  return (
    <div style={{ position: "absolute", left: 0, top, width: 1521, height: h }}>
      <LineChart width={1521} height={h} data={rows} margin={{ top: PAD_TOP, right: 1521 - PLOT_LEFT - PLOT_W, bottom: 0, left: 0 }}>
        <XAxis
          type="number"
          dataKey="t"
          domain={panelRanges[idx]}
          ticks={panelYears[idx]}
          interval={0}
          allowDataOverflow
          height={AXIS_H}
          axisLine={false}
          tickLine={{ stroke: "#222", strokeWidth: 1.3 }}
          tickSize={7}
          tickMargin={8}
          tick={tickStyle}
          tickFormatter={(v: number) => String(Math.round(v))}
        />
        <YAxis
          type="number"
          domain={[-0.2373, 0.2373]}
          ticks={slaTicks}
          interval={0}
          allowDataOverflow
          width={PLOT_LEFT}
          axisLine={false}
          tickLine={{ stroke: "#222", strokeWidth: 1.3 }}
          tickSize={7}
          tickMargin={7}
          tick={tickStyle}
          tickFormatter={fmtSla}
        />
        <ReferenceLine y={0} stroke="#000" strokeWidth={1.5} strokeDasharray="6 6" />
        {hexIsoBelowLp.map((t) => (
          <ReferenceLine key={`b${t}`} x={t} stroke={C.below} strokeWidth={2.5} ifOverflow="discard" />
        ))}
        {hexIsoAboveLp.map((t) => (
          <ReferenceLine key={`a${t}`} x={t} stroke={C.above} strokeWidth={2.5} ifOverflow="discard" />
        ))}
        <Line type="linear" dataKey="java" stroke={C.java} strokeWidth={4} strokeLinejoin="round" dot={false} activeDot={false} connectNulls isAnimationActive={false} />
        <Line type="linear" dataKey="sumatra" stroke={C.sumatra} strokeWidth={4} strokeLinejoin="round" dot={false} activeDot={false} connectNulls isAnimationActive={false} />
        <Line type="linear" dataKey="wind" stroke={C.wind} strokeWidth={4} strokeLinejoin="round" dot={false} activeDot={false} connectNulls isAnimationActive={false} />
      </LineChart>
      <div
        style={{
          position: "absolute",
          left: PLOT_LEFT - 1,
          top: PAD_TOP - 1,
          width: PLOT_W + 2,
          height: PLOT_H + 2,
          border: "1.4px solid #222",
          boxSizing: "border-box",
          pointerEvents: "none",
        }}
      />
      <div
        style={{
          position: "absolute",
          left: 80,
          top: PAD_TOP + PLOT_H / 2,
          transform: "translate(-50%, -50%) rotate(-90deg)",
          fontSize: 35,
          lineHeight: 1,
          whiteSpace: "nowrap",
          color: "#111",
        }}
      >
        SLA (m)
      </div>
    </div>
  );
}

const legendRows = [
  { label: "Java LSW", color: C.java, x: 698, y: 49 },
  { label: "Sumatra LSW", color: C.sumatra, x: 698, y: 103 },
  { label: "Remote Wind", color: C.wind, x: 698, y: 157 },
  { label: "HEX: ISO < LP", color: C.below, x: 1128, y: 49 },
  { label: "HEX: ISO > LP", color: C.above, x: 1128, y: 103 },
];

export default function App() {
  return (
    <div style={{ position: "absolute", left: 0, top: 0, width: 1521, height: 1215, background: "#fff", fontFamily: FONT, overflow: "hidden" }}>
      <Panel idx={0} java={java1} sumatra={sumatra1} wind={wind1} />
      <Panel idx={1} java={java2} sumatra={sumatra2} wind={wind2} />
      <Panel idx={2} java={java3} sumatra={sumatra3} wind={wind3} />
      <Panel idx={3} java={java4} sumatra={sumatra4} wind={wind4} />

      <div style={{ position: "absolute", left: PLOT_LEFT + PLOT_W / 2, top: 1177, transform: "translateX(-50%)", fontSize: 35, lineHeight: 1, color: "#111" }}>
        Year
      </div>

      <div style={{ position: "absolute", left: 0, top: 499, fontSize: 78, lineHeight: 1, color: "#000" }}>f</div>

      <div
        style={{
          position: "absolute",
          left: 687,
          top: 20,
          width: 823,
          height: 172,
          border: "1.5px solid #d4d4d4",
          borderRadius: 8,
          boxSizing: "border-box",
          background: "#fff",
        }}
      />
      {legendRows.map((r) => (
        <React.Fragment key={r.label}>
          <div style={{ position: "absolute", left: r.x, top: r.y - 2, width: 82, height: 5, background: r.color }} />
          <div style={{ position: "absolute", left: r.x + 107, top: r.y - 17, fontSize: 36, lineHeight: 1, whiteSpace: "nowrap", color: "#111" }}>
            {r.label}
          </div>
        </React.Fragment>
      ))}
    </div>
  );
}
